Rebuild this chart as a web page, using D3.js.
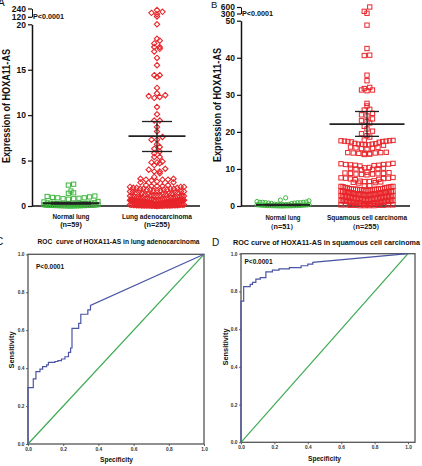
<!DOCTYPE html>
<html><head><meta charset="utf-8">
<script src="https://cdn.jsdelivr.net/npm/d3@7"></script>
<style>
body{margin:0;background:#fff}
svg{display:block}
text{font-family:"Liberation Sans",Arial,sans-serif;white-space:pre}
</style>
</head><body><svg id="c" width="422" height="466"></svg>
<script>
// ---------------- DATA ----------------
const categoriesA = ["Normal lung", "Lung adenocarcinoma"];
const countLabelsA = ["(n=59)", "(n=255)"];
const categoriesB = ["Normal lung", "Squamous cell carcinoma"];
const countLabelsB = ["\uFF08n=51\uFF09", "\uFF08n=255\uFF09"];

const yTicksA = [0, 5, 10, 15, 20];
const yBreakTicksA = [120, 240];
const yTicksB = [0, 10, 20, 30, 40, 50];
const yBreakTicksB = [300, 600];

const normalLungA = [2.4, 2.3, 1.65, 1.4, 1.45,
  1.05, 0.95, 0.9, 0.8, 0.85, 0.75, 0.8, 0.9, 1.0, 1.1, 0.5, 0.45,
  0.35, 0.3, 0.32, 0.28, 0.25, 0.3, 0.33, 0.27, 0.22, 0.3,
  0.2, 0.18, 0.15, 0.22, 0.12, 0.2, 0.17, 0.14, 0.1, 0.19,
  0.08, 0.05, 0.1, 0.06, 0.03, 0.09, 0.07, 0.04, 0.02, 0.08,
  0.05, 0.03, 0.06, 0.01, 0.04, 0.02, 0.07, 0.05, 0.03, 0.06, 0.02, 0.04];

const adenoA = [125, 157, 177, 192, 217, 20.0,
  18.4, 18.2, 17.9, 17.5, 17.3, 17.5, 17.0, 16.3, 15.5, 14.4, 14.2, 14.4, 13.0,
  12.4, 12.2, 11.9, 12.0, 12.1, 10.9, 10.1,
  9.4, 9.4, 8.7, 8.2, 7.6, 7.3, 7.3, 6.8, 6.3, 6.5, 6.0, 5.8, 5.4, 5.4,
  4.8, 4.7, 4.9, 4.8, 4.5, 4.1, 4.0, 3.8, 3.8, 3.6,
  3.2, 3.0, 2.9, 2.9, 2.7, 2.8, 2.9, 3.0, 2.6, 2.6,
  2.3, 2.2, 2.1, 2.2, 2.0, 2.1, 2.3, 2.0, 2.2, 2.1, 2.0,
  1.9, 1.8, 1.9, 1.7, 1.8, 1.9, 1.8, 1.7, 1.9, 1.8, 1.7,
  1.6, 1.5, 1.6, 1.4, 1.5, 1.6, 1.5, 1.4, 1.6, 1.5, 1.4,
  1.3, 1.2, 1.3, 1.1, 1.2, 1.3, 1.2, 1.1, 1.3, 1.2, 1.1,
  1.0, 0.9, 1.0, 0.95, 0.9, 1.0, 0.95, 0.9, 1.0, 0.9, 0.95,
  0.8, 0.75, 0.7, 0.8, 0.75, 0.7, 0.8, 0.75, 0.7, 0.8, 0.75,
  0.62, 0.6, 0.58, 0.65, 0.6, 0.57, 0.63, 0.6, 0.55, 0.62, 0.6, 0.58, 0.64, 0.6, 0.56, 0.61, 0.6, 0.59, 0.63, 0.6, 0.57, 0.62, 0.6, 0.58,
  0.5, 0.45, 0.48, 0.42, 0.46, 0.5, 0.44, 0.47, 0.43, 0.49, 0.45, 0.41, 0.48, 0.46, 0.5, 0.44, 0.42, 0.47, 0.45, 0.49, 0.43, 0.46, 0.48, 0.44, 0.5, 0.45,
  0.35, 0.3, 0.32, 0.28, 0.34, 0.31, 0.27, 0.33, 0.29, 0.36, 0.3, 0.32, 0.28, 0.35, 0.31, 0.27, 0.33, 0.3, 0.34, 0.29, 0.32, 0.36, 0.28, 0.31, 0.33, 0.3, 0.35,
  0.2, 0.15, 0.18, 0.12, 0.16, 0.2, 0.14, 0.17, 0.13, 0.19, 0.15, 0.11, 0.18, 0.16, 0.2, 0.14, 0.12, 0.17, 0.15, 0.19, 0.13, 0.16, 0.18, 0.14, 0.2, 0.15,
  0.05, 0.02, 0.08, 0.04, 0.06, 0.01, 0.07, 0.03, 0.05, 0.09, 0.02, 0.06, 0.04, 0.08, 0.03, 0.05, 0.07, 0.01, 0.06, 0.04, 0.09, 0.02, 0.05, 0.08, 0.03, 0.06];

const normalLungB = [2.2, 1.6, 1.4,
  1.2, 1.0, 0.7, 0.9, 1.0, 0.8, 1.1, 0.9, 0.8, 1.0, 0.7, 0.9,
  0.5, 0.4, 0.45, 0.35, 0.3, 0.42, 0.38, 0.33, 0.28, 0.4, 0.25, 0.3,
  0.2, 0.15, 0.22, 0.18, 0.1, 0.2, 0.12, 0.16, 0.08, 0.14, 0.05, 0.1,
  0.06, 0.02, 0.04, 0.08, 0.03, 0.05, 0.01, 0.07, 0.02, 0.04, 0.06, 0.03];

const squamousB = [310, 400, 600, 48.8, 42.5, 40.7, 40.6, 35.3, 33.8,
  32.0, 31.3, 31.1, 31.3, 31.7,
  27.7, 27.0, 26.1, 25.9, 25.0, 24.6, 24.3, 23.5, 23.0, 22.8, 22.4, 21.5, 20.8, 20.2, 19.5, 19.0, 18.6,
  17.6, 17.4, 17.7, 17.3, 17.5, 17.6, 17.2, 17.5, 17.8, 17.4,
  16.8, 16.5, 16.7, 16.4, 16.6, 16.9, 16.5, 16.7,
  15.8, 15.5, 15.7, 15.4, 15.6, 15.9,
  14.4, 14.1, 14.3, 14.0, 14.2, 14.5, 13.9, 14.3, 14.1, 14.4,
  11.3, 11.0, 11.2, 10.9, 11.1, 11.4, 11.0, 11.2, 11.5, 10.8,
  10.3, 10.0, 10.2, 9.9, 10.4, 10.1, 9.8, 10.2,
  8.9, 8.6, 8.8, 8.5, 8.7, 9.0, 8.6, 8.8, 9.1, 8.4,
  7.6, 7.3, 7.5, 7.2, 7.7, 7.4, 7.1, 7.5,
  6.7, 6.4, 6.6, 6.3, 6.8, 6.5, 6.2, 6.6,
  5.3, 5.0, 5.2, 4.9, 5.4, 5.1, 5.5, 5.0, 5.2, 5.3, 4.9,
  4.6, 4.4, 4.5, 4.3, 4.7, 4.5, 4.2, 4.6, 4.4, 4.5, 4.3, 4.7, 4.4, 4.6, 4.5, 4.2, 4.6,
  3.9, 3.7, 3.8, 3.6, 4.0, 3.8, 3.5, 3.9, 3.7, 3.8, 3.6, 4.0, 3.7, 3.9, 3.8, 3.5, 3.9,
  3.2, 3.0, 3.1, 2.9, 3.3, 3.1, 2.8, 3.2, 3.0, 3.1, 2.9, 3.3, 3.0, 3.2, 3.1, 2.8, 3.2,
  2.6, 2.4, 2.5, 2.3, 2.7, 2.5, 2.2, 2.6, 2.4, 2.5, 2.3, 2.7, 2.4, 2.6, 2.5, 2.2, 2.6,
  2.0, 1.8, 1.9, 1.7, 2.1, 1.9, 1.6, 2.0, 1.8, 1.9, 1.7, 2.1, 1.8, 2.0, 1.9, 1.6, 2.0,
  1.4, 1.2, 1.3, 1.1, 1.5, 1.3, 1.0, 1.4, 1.2, 1.3, 1.1, 1.5, 1.2, 1.4, 1.3, 1.0, 1.4,
  0.9, 0.7, 0.8, 0.6, 0.9, 0.8, 0.6, 0.9, 0.7, 0.8, 0.6, 0.9, 0.7, 0.8, 0.8, 0.6, 0.9,
  0.4, 0.2, 0.3, 0.1, 0.4, 0.3, 0.1, 0.4, 0.2, 0.3, 0.1, 0.4, 0.2, 0.3, 0.2, 0.1];

// mean and SEM
const meanA = [0.3, 7.7], semHighA = [0.4, 9.3], semLowA = [0.2, 6.0];
const meanB = [0.3, 22.1], semHighB = [0.4, 25.5], semLowB = [0.2, 18.8];

// ROC curves: [1 - specificity, sensitivity]
const rocTicks = [0, 0.2, 0.4, 0.6, 0.8, 1.0];
const rocC = [[0,0],[0,0.297],[0.03,0.297],[0.03,0.343],[0.045,0.343],[0.045,0.381],[0.068,0.381],[0.068,0.395],
  [0.083,0.395],[0.083,0.408],[0.106,0.408],[0.106,0.417],[0.116,0.417],[0.116,0.43],[0.153,0.43],[0.153,0.435],
  [0.17,0.435],[0.17,0.44],[0.19,0.44],[0.19,0.448],[0.21,0.448],[0.21,0.46],[0.23,0.46],[0.23,0.483],
  [0.242,0.483],[0.242,0.506],[0.25,0.506],[0.25,0.61],[0.288,0.61],[0.288,0.636],[0.30,0.636],[0.30,0.684],
  [0.34,0.684],[0.34,0.707],[0.355,0.707],[0.355,0.731],[1,1]];
const rocD = [[0,0],[0,0.749],[0.016,0.749],[0.016,0.825],[0.055,0.825],[0.055,0.837],[0.069,0.837],[0.069,0.848],
  [0.089,0.848],[0.089,0.865],[0.115,0.865],[0.115,0.873],[0.149,0.873],[0.149,0.904],[0.188,0.904],[0.188,0.913],
  [0.228,0.913],[0.228,0.92],[0.29,0.92],[0.29,0.926],[0.36,0.926],[0.36,0.936],[0.40,0.936],[0.40,0.945],
  [0.43,0.945],[0.43,0.954],[1,1]];
const diagonal = [[0,0],[1,1]];

// ---------------- DRAW ----------------
const svg = d3.select("#c");
const RED = "#e8262b", GREEN = "#3cb53c", BLUE = "#4a55a5", DIAG = "#3aaa50";
const FONT = '"Liberation Sans",Arial,sans-serif';

function txt(x, y, s, size, weight, anchor, extra) {
  const t = svg.append("text").attr("x", x).attr("y", y).text(s)
    .attr("font-size", size).attr("font-weight", weight || "bold")
    .attr("text-anchor", anchor || "start").attr("fill", "#111");
  if (extra && extra.len) t.attr("textLength", extra.len).attr("lengthAdjust", "spacingAndGlyphs");
  if (extra && extra.rot) t.attr("transform", `rotate(-90,${x},${y})`);
  return t;
}

function swarm(values, yFn, cx, halfW, size) {
  const pts = values.map(v => ({v, y: yFn(v)}));
  const groups = d3.groups(pts, p => Math.round(p.y / size));
  const out = [];
  groups.forEach(([k, arr]) => {
    arr.sort((a, b) => a.v - b.v);
    const n = arr.length;
    const sp = n > 1 ? Math.min(size + 0.9, 2 * halfW / (n - 1)) : 0;
    const slots = d3.range(n).sort((a, b) => Math.abs(a - (n - 1) / 2) - Math.abs(b - (n - 1) / 2) || a - b);
    arr.forEach((p, i) => { p.x = cx + (slots[i] - (n - 1) / 2) * sp; out.push(p); });
  });
  return out;
}

function styleAxis(g, size) {
  g.selectAll("text").attr("font-size", size).attr("font-weight", "bold").attr("font-family", FONT).attr("fill", "#111");
  g.selectAll("line").attr("stroke", "#111").attr("stroke-width", 1.2);
  g.select(".domain").attr("stroke", "#111").attr("stroke-width", 1.5);
}

function dotPanel(cfg) {
  const y = d3.scaleLinear().domain([0, cfg.yMax]).range([206, cfg.yTopPx]);
  const yb = d3.scaleLinear().domain(cfg.breakDomain).range(cfg.breakRange);
  const yf = v => v > cfg.yMax ? yb(v) : y(v);
  const x = d3.scalePoint().domain(cfg.categories).range(cfg.centers);

  const ga = svg.append("g").attr("transform", `translate(${cfg.axisX},0)`)
    .call(d3.axisLeft(y).tickValues(cfg.yTicks).tickSize(4).tickSizeOuter(0).tickPadding(2));
  styleAxis(ga, 8.5);
  const gb = svg.append("g").attr("transform", `translate(${cfg.axisX},0)`)
    .call(d3.axisLeft(yb).tickValues(cfg.breakTicks).tickSize(4).tickSizeOuter(0).tickPadding(2));
  styleAxis(gb, 8.5);
  gb.select(".domain").attr("stroke-width", 1);
  svg.append("line").attr("x1", cfg.axisX).attr("x2", cfg.axisEnd).attr("y1", 206).attr("y2", 206)
    .attr("stroke", "#111").attr("stroke-width", 1.5);

  const g1 = svg.append("g");
  const p0 = swarm(cfg.groupValues[0], yf, x(cfg.categories[0]), cfg.halfW[0], 4.4);
  const p1 = swarm(cfg.groupValues[1], yf, x(cfg.categories[1]), cfg.halfW[1], 4.6);
  cfg.drawMarker(g1, p0, 0);
  cfg.drawMarker(g1, p1, 1);

  cfg.categories.forEach((c, i) => {
    const cx = x(c);
    const lines = [
      [cx - cfg.meanHalf[i], cx + cfg.meanHalf[i], y(cfg.mean[i]), y(cfg.mean[i]), 1.8],
      [cx - cfg.capHalf[i], cx + cfg.capHalf[i], y(cfg.semHigh[i]), y(cfg.semHigh[i]), 1.3],
      [cx - cfg.capHalf[i], cx + cfg.capHalf[i], y(cfg.semLow[i]), y(cfg.semLow[i]), 1.3],
      [cx, cx, y(cfg.semHigh[i]), y(cfg.semLow[i]), 1.3]
    ];
    lines.forEach(l => svg.append("line").attr("x1", l[0]).attr("x2", l[1]).attr("y1", l[2]).attr("y2", l[3])
      .attr("stroke", "#222").attr("stroke-width", l[4]));
    txt(cx, 218.5 + cfg.labelDy, c, 7.3, "bold", "middle", {len: cfg.catLen[i]});
    txt(cx + cfg.countDx, 226.5 + cfg.labelDy * 2, cfg.countLabels[i], 7.3, "bold", "middle");
  });

  txt(cfg.axisX + 1, cfg.pY, "P<0.0001", 8, "bold", "start", {len: 31});
  txt(cfg.titleX, cfg.titleY, "Expression of HOXA11-AS", 10, "bold", "middle", {len: 114, rot: true});
}

function squares(g, pts, color, s) {
  g.selectAll(null).data(pts).enter().append("rect")
    .attr("x", d => d.x - s / 2).attr("y", d => d.y - s / 2).attr("width", s).attr("height", s)
    .attr("fill", "none").attr("stroke", color).attr("stroke-width", 1);
}
function diamonds(g, pts, color, s) {
  g.selectAll(null).data(pts).enter().append("path")
    .attr("d", d => `M${d.x},${d.y - s}L${d.x + s},${d.y}L${d.x},${d.y + s}L${d.x - s},${d.y}Z`)
    .attr("fill", "none").attr("stroke", color).attr("stroke-width", 1.1);
}
function circles(g, pts, color, r) {
  g.selectAll(null).data(pts).enter().append("circle")
    .attr("cx", d => d.x).attr("cy", d => d.y).attr("r", r)
    .attr("fill", "none").attr("stroke", color).attr("stroke-width", 1);
}

dotPanel({
  categories: categoriesA, countLabels: countLabelsA, centers: [71, 157],
  axisX: 32, axisEnd: 200, yMax: 20, yTopPx: 24.3, yTicks: yTicksA,
  breakDomain: [120, 240], breakRange: [16.8, 8.5], breakTicks: yBreakTicksA,
  groupValues: [normalLungA, adenoA], halfW: [27, 27],
  mean: meanA, semHigh: semHighA, semLow: semLowA, meanHalf: [28, 28.5], capHalf: [20, 15],
  catLen: [37, 70], countDx: 0, labelDy: 0, pY: 18.5, titleX: 10, titleY: 106,
  drawMarker: (g, pts, i) => i === 0 ? squares(g, pts, GREEN, 4.2) : diamonds(g, pts, RED, 2.7)
});
dotPanel({
  categories: categoriesB, countLabels: countLabelsB, centers: [283, 367],
  axisX: 241, axisEnd: 410, yMax: 50, yTopPx: 20.7, yTicks: yTicksB,
  breakDomain: [300, 600], breakRange: [13.5, 7], breakTicks: yBreakTicksB,
  groupValues: [normalLungB, squamousB], halfW: [26, 26],
  mean: meanB, semHigh: semHighB, semLow: semLowB, meanHalf: [27, 37.5], capHalf: [18, 12],
  catLen: [35, 80], countDx: -1, labelDy: 1, pY: 16, titleX: 221, titleY: 105,
  drawMarker: (g, pts, i) => i === 0 ? circles(g, pts, GREEN, 2.1) : squares(g, pts, RED, 4.3)
});

txt(-2, 6, "A", 10, "normal");
txt(211, 8, "B", 9.5, "normal");
txt(-4, 245, "C", 10, "normal");
txt(212, 246, "D", 10, "normal");

function rocPanel(cfg) {
  const x = d3.scaleLinear().domain([0, 1]).range([cfg.left, cfg.right]);
  const y = d3.scaleLinear().domain([0, 1]).range([cfg.bottom, cfg.top]);
  svg.append("rect").attr("x", cfg.left).attr("y", cfg.top).attr("width", cfg.frameRight - cfg.left)
    .attr("height", cfg.bottom - cfg.top).attr("fill", "none").attr("stroke", "#555").attr("stroke-width", 1.3);
  const gl = svg.append("g").attr("transform", `translate(${cfg.left},0)`)
    .call(d3.axisLeft(y).tickValues(rocTicks).tickFormat(d3.format(".1f")).tickSize(2).tickSizeOuter(0).tickPadding(1.5));
  const gbt = svg.append("g").attr("transform", `translate(0,${cfg.bottom})`)
    .call(d3.axisBottom(x).tickValues(rocTicks).tickFormat(d3.format(".1f")).tickSize(2).tickSizeOuter(0).tickPadding(1.5));
  [gl, gbt].forEach(g => {
    g.select(".domain").remove();
    g.selectAll("line").attr("stroke", "#444").attr("stroke-width", 0.8);
    g.selectAll("text").attr("font-size", 4.8).attr("font-weight", "bold").attr("font-family", FONT).attr("fill", "#333");
  });
  const line = d3.line().x(d => x(d[0])).y(d => y(d[1]));
  svg.append("path").attr("d", line(diagonal)).attr("fill", "none").attr("stroke", DIAG).attr("stroke-width", 1.2);
  svg.append("path").attr("d", line(cfg.data)).attr("fill", "none").attr("stroke", BLUE).attr("stroke-width", 1.2);
  txt(cfg.pX, cfg.pY, "P<0.0001", 7, "bold", "start", {len: 28});
  txt(cfg.titleX, cfg.titleY, cfg.title, cfg.titleSize, "bold", "start", {len: cfg.titleLen});
  txt(cfg.sensX, cfg.sensY, "Sensitivity", 7.2, "bold", "middle", {len: 37, rot: true});
  txt(cfg.specX, cfg.specY, "Specificity", 7.6, "bold", "middle", {len: 33});
}

rocPanel({
  left: 28, right: 204, frameRight: 204, top: 254.3, bottom: 444, data: rocC,
  pX: 36, pY: 269, title: "ROC  curve of HOXA11-AS in lung adenocarcinoma", titleX: 37.5, titleY: 243.5,
  titleSize: 7.3, titleLen: 162, sensX: 14, sensY: 350, specX: 116.5, specY: 461.5
});
rocPanel({
  left: 241, right: 408, frameRight: 415, top: 253.7, bottom: 442.3, data: rocD,
  pX: 244.5, pY: 263.5, title: "ROC curve of HOXA11-AS in squamous cell carcinoma", titleX: 233, titleY: 245,
  titleSize: 8, titleLen: 187, sensX: 228, sensY: 347, specX: 324.5, specY: 461
});
</script>
</body></html>
